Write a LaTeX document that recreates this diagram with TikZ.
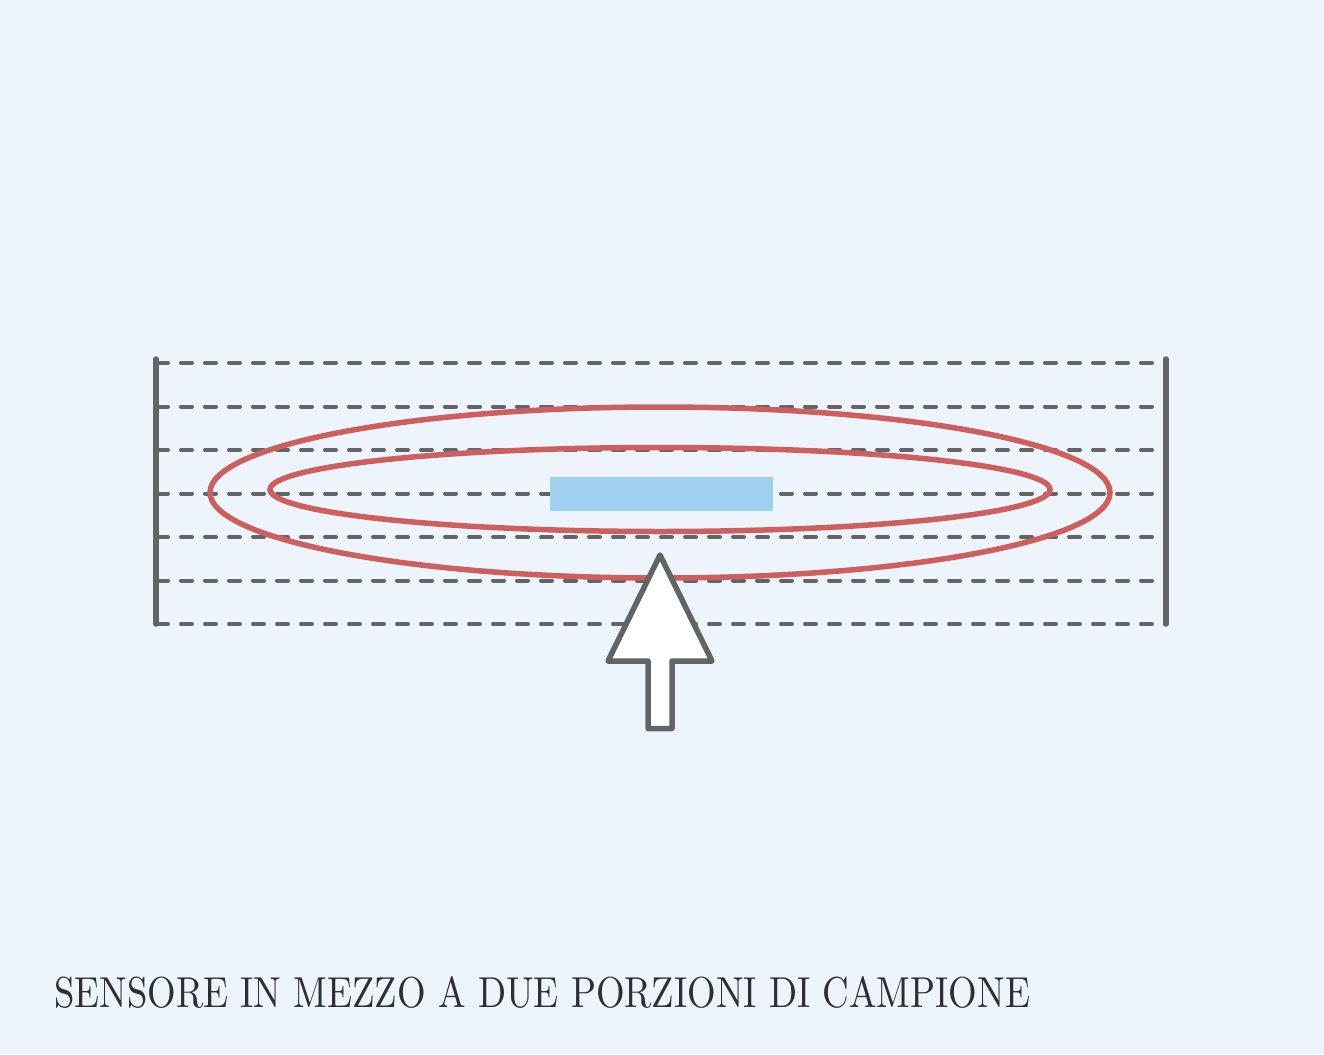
\documentclass[tikz,border=0pt]{standalone}
\usepackage{graphicx}
\definecolor{bgc}{RGB}{237,244,251}
\definecolor{grayc}{RGB}{99,100,102}
\definecolor{redc}{RGB}{205,95,95}
\definecolor{bluec}{RGB}{160,208,240}
\definecolor{textc}{RGB}{45,47,52}
\begin{document}
\begin{tikzpicture}[x=1pt,y=-1pt,
  fieldline/.style={grayc,line width=4pt,line cap=round,dash pattern=on 11pt off 13pt},
  platebar/.style={grayc,line width=5.5pt,line cap=round},
  loopline/.style={redc,line width=5.5pt},
  arrowshape/.style={grayc,line width=5.5pt,line join=round,fill=white}]
\fill[bgc] (0,0) rectangle (1324,1054);
\useasboundingbox (0,0) rectangle (1324,1054);
\foreach \y in {363,406.5,450,493.5,537,580.5,624}{
  \draw[fieldline] (157,\y) -- (1166,\y);
}
\draw[platebar] (156,359) -- (156,624);
\draw[platebar] (1166,359) -- (1166,624);
\fill[bluec] (550,477) rectangle (773,511);
\draw[loopline] (660,492.5) ellipse [x radius=450, y radius=85.5];
\draw[loopline] (660,489.5) ellipse [x radius=390, y radius=42];
\draw[arrowshape] (660,555) -- (712,661) -- (672,661) -- (672,728.5) -- (648,728.5) -- (648,661) -- (608,661) -- cycle;
\node[anchor=base west,inner sep=0pt,text=textc] (caption) at (54,1007)
  {\resizebox{976pt}{31pt}{SENSORE IN MEZZO A DUE PORZIONI DI CAMPIONE}};
\end{tikzpicture}
\end{document}
